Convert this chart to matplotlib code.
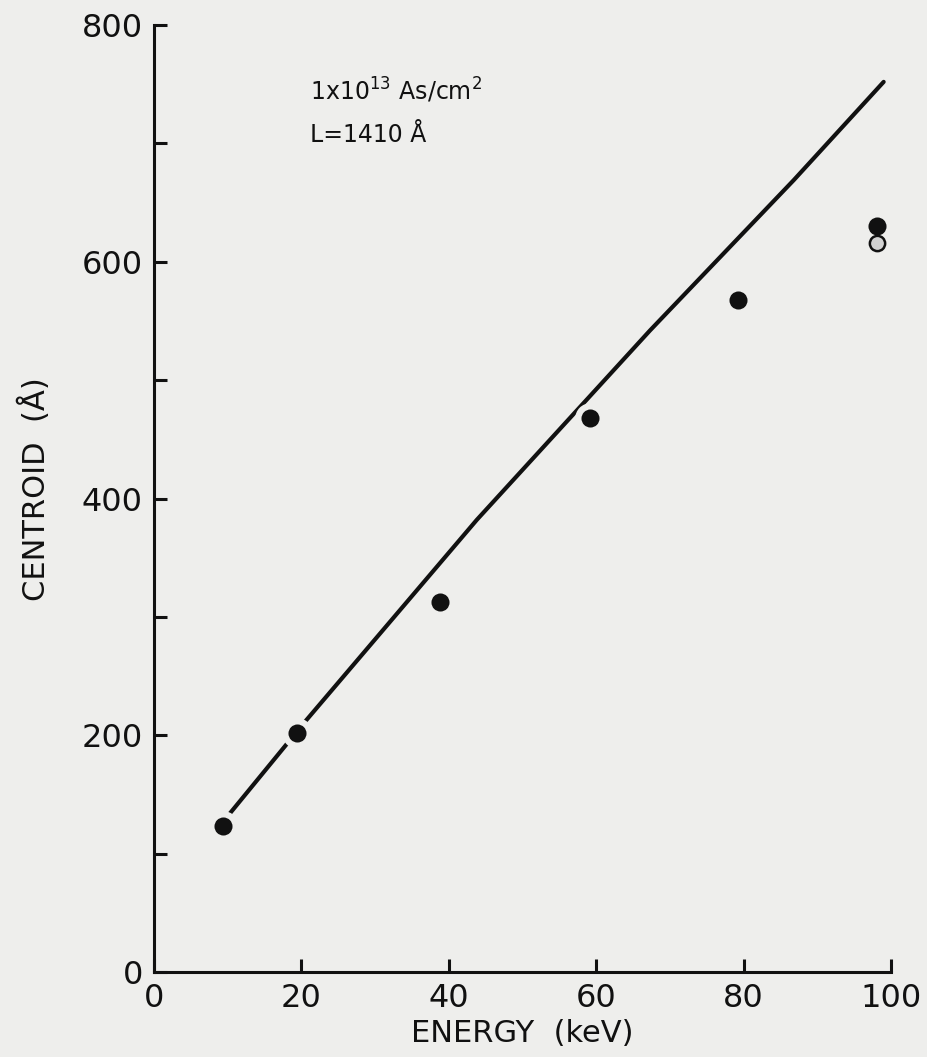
import numpy as np
import matplotlib
matplotlib.use("Agg")
import matplotlib.pyplot as plt

# measured centroids (filled) and the single open-circle point at 98 keV
energy_kev = [9.3, 19.4, 38.8, 59.2, 79.3, 98.1]
centroid_a = [123, 202, 313, 468, 568, 630]
energy_open = [98.1]
centroid_open = [616]

# calculated curve read along its length
curve_kev = [10.3, 20.7, 43.8, 67.3, 86.8, 99.0]
curve_a = [134, 213, 382, 542, 669, 752]

x_ticks = [0, 20, 40, 60, 80, 100]
x_tick_labels = ["0", "20", "40", "60", "80", "100"]
y_ticks = [0, 100, 200, 300, 400, 500, 600, 700, 800]
y_tick_labels = ["0", "", "200", "", "400", "", "600", "", "800"]

BG = "#eeeeec"
INK = "#111111"

plt.rcParams["font.family"] = ["DejaVu Sans"]


def main():
    fig = plt.figure(figsize=(9.27, 10.57), dpi=100, facecolor=BG)
    ax = fig.add_axes([0.1661, 0.0804, 0.7951, 0.8959])
    ax.set_facecolor(BG)

    ax.plot(curve_kev, curve_a, color=INK, linewidth=3.0, solid_capstyle="round", zorder=2)
    # paper-coloured halo so the curve breaks around the dots
    ax.plot(energy_kev, centroid_a, linestyle="none", marker="o", markersize=22,
            markerfacecolor=BG, markeredgecolor="none", zorder=2.5)
    ax.plot(energy_open, centroid_open, linestyle="none", marker="o", markersize=11,
            markerfacecolor="#d2d2d2", markeredgecolor=INK, markeredgewidth=1.8, zorder=3)
    ax.plot(energy_kev, centroid_a, linestyle="none", marker="o", markersize=13,
            markerfacecolor=INK, markeredgecolor="none", zorder=4)

    ax.text(21.2, 737, r"1x10$^{13}$ As/cm$^{2}$", fontsize=17, color=INK,
            ha="left", va="baseline")
    ax.text(21.2, 701, "L=1410 Å", fontsize=17, color=INK, ha="left", va="baseline")

    ax.set_xlim(0, 100)
    ax.set_ylim(0, 800)
    ax.set_xticks(x_ticks)
    ax.set_xticklabels(x_tick_labels)
    ax.set_yticks(y_ticks)
    ax.set_yticklabels(y_tick_labels)
    ax.tick_params(axis="both", direction="in", length=9.5, width=2.2, colors=INK,
                   labelsize=23, pad=8)

    for side in ("top", "right"):
        ax.spines[side].set_visible(False)
    for side in ("left", "bottom"):
        ax.spines[side].set_linewidth(2.2)
        ax.spines[side].set_color(INK)

    ax.set_xlabel("ENERGY  (keV)", fontsize=22, color=INK)
    ax.xaxis.set_label_coords(0.5, -0.05)
    ax.xaxis.label.set_va("top")
    ax.set_ylabel("CENTROID  (Å)", fontsize=22, color=INK)
    ax.yaxis.set_label_coords(-0.1615, 0.51)
    ax.yaxis.label.set_va("center")

    fig.savefig("out.png", dpi=100, facecolor=BG)
    plt.close(fig)


if __name__ == "__main__":
    main()
